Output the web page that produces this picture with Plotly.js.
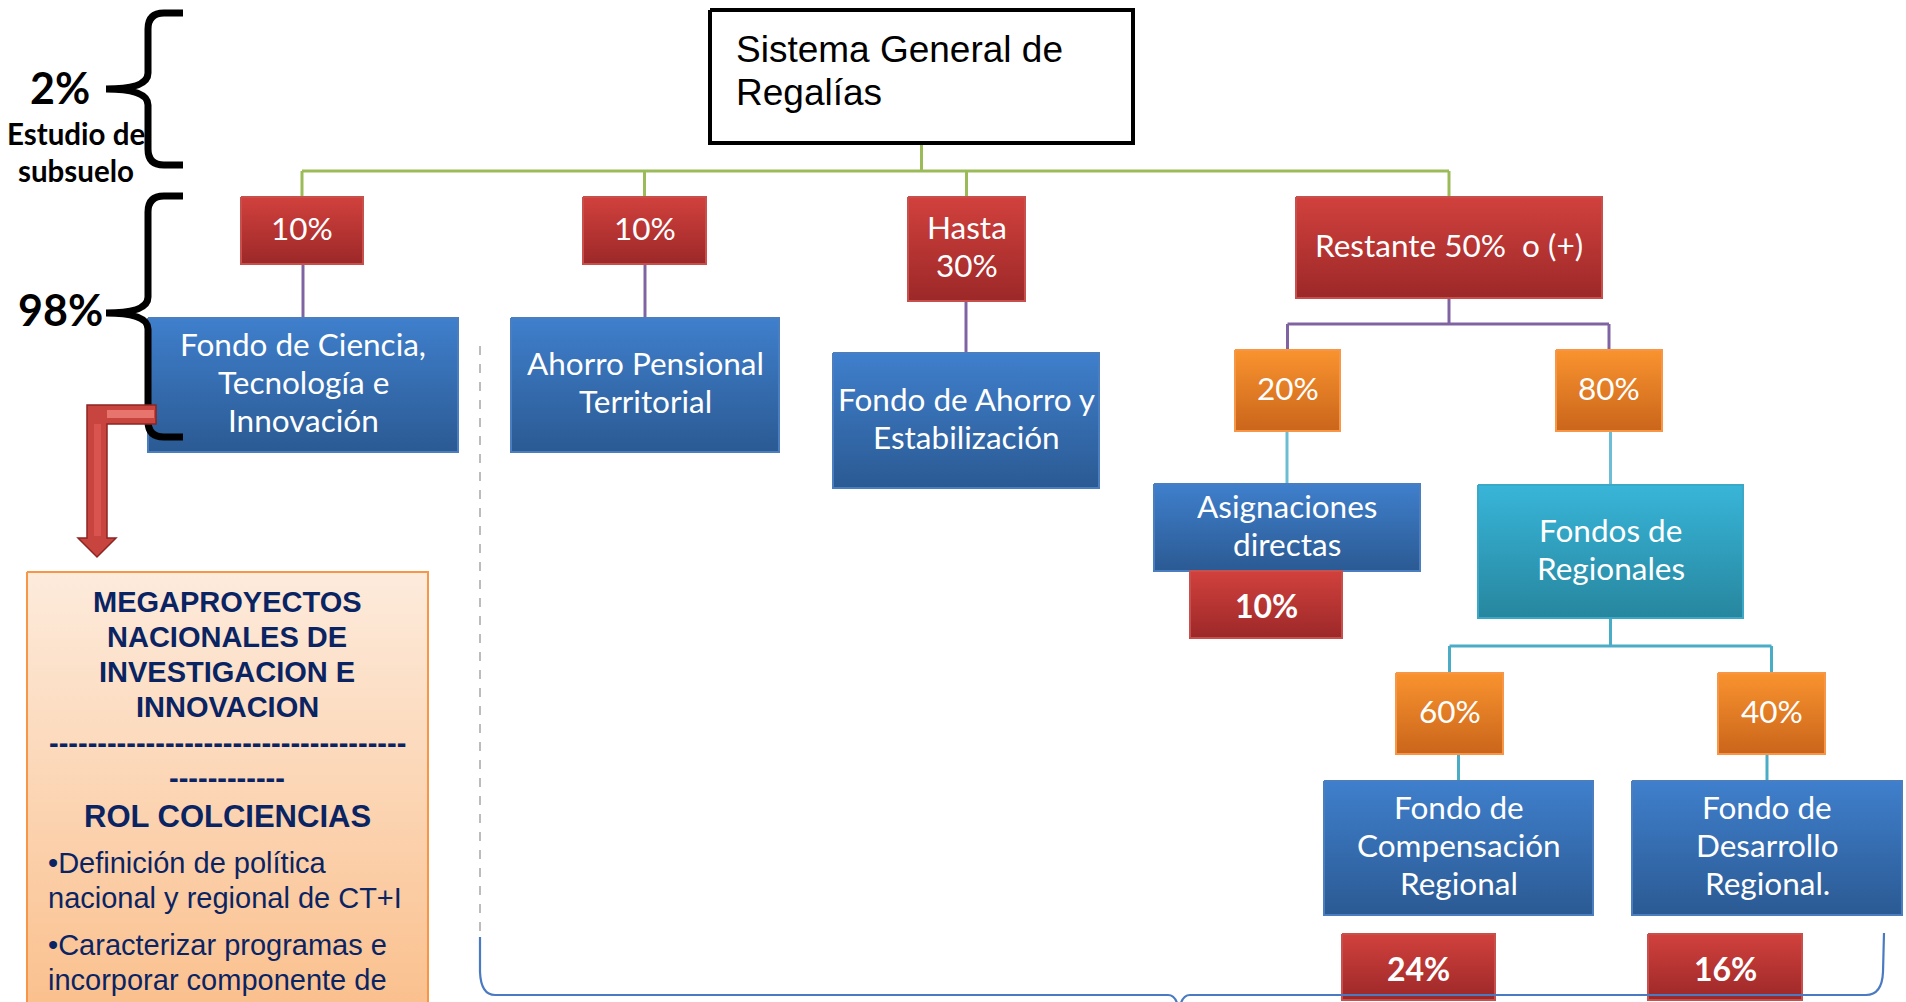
<!DOCTYPE html>
<html><head><meta charset="utf-8">
<script src="https://cdn.plot.ly/plotly-3.0.1.min.js"></script>
<style>html,body{margin:0;padding:0;background:#fff;overflow:hidden}#chart{width:1906px;height:1002px}</style>
</head><body><div id="chart"></div>
<script>
// ---------------- DATA ----------------
const nodeIds    = ['root','p1','p2','p3','p4','f1','f2','f3','p5','p6','f4','p7','f5','p8','p9','f6','f7','p10','p11'];
const nodeLabels = ['Sistema General de<br>Regalías','10%','10%','Hasta<br>30%','Restante 50%  o (+)',
  'Fondo de Ciencia,<br>Tecnología e<br>Innovación','Ahorro Pensional<br>Territorial','Fondo de Ahorro y<br>Estabilización',
  '20%','80%','Asignaciones<br>directas','10%','Fondos de<br>Regionales','60%','40%',
  'Fondo de<br>Compensación<br>Regional','Fondo de<br>Desarrollo<br>Regional.','24%','16%'];
const edgeGroups = [
  ['root',['p1','p2','p3','p4']],
  ['p1',['f1']],['p2',['f2']],['p3',['f3']],
  ['p4',['p5','p6']],
  ['p5',['f4']],['p6',['f5']],
  ['f5',['p8','p9']],
  ['p8',['f6']],['p9',['f7']]
];
const sideShares = ['2%','98%'];
const sideNote = ['Estudio de','subsuelo'];
const roleHead = ['MEGAPROYECTOS','NACIONALES DE','INVESTIGACION E','INNOVACION'];
const roleRule = ['-------------------------------------','------------'];
const roleTitle = 'ROL COLCIENCIAS';
const roleItems = ['•Definición de política','nacional y regional de CT+I','•Caracterizar programas e','incorporar componente de'];

// ---------------- GEOMETRY / STYLE ----------------
const geom = {
  root:[710,1133,10,143,'white'], p1:[241,363,197,264,'red'], p2:[583,706,197,264,'red'],
  p3:[908,1025,197,301,'red'], p4:[1296,1602,197,298,'red'],
  f1:[148,458,318,452,'blue'], f2:[511,779,318,452,'blue'], f3:[833,1099,353,488,'blue'],
  p5:[1235,1340,350,431,'orange'], p6:[1556,1662,350,431,'orange'],
  f4:[1154,1420,484,571,'blue'], p7:[1190,1342,571,638,'red'],
  f5:[1478,1743,485,618,'teal'], p8:[1396,1503,673,754,'orange'], p9:[1718,1825,673,754,'orange'],
  f6:[1324,1593,781,915,'blue'], f7:[1632,1902,781,915,'blue'],
  p10:[1342,1495,934,1000,'red'], p11:[1648,1802,934,1000,'red']
};
const boldIds = ['p7','p10','p11'];
const busY = {root:171, p4:324, f5:646};
const edgeColor = {root:'#9BBB59', p1:'#8064A2', p2:'#8064A2', p3:'#8064A2', p4:'#8064A2',
  p5:'#6DBED4', p6:'#6DBED4', f5:'#4BACC6', p8:'#4BACC6', p9:'#4BACC6'};
const styles = {
  red:{top:'#D1413D',bot:'#9C2828',line:'#C8504C'},
  blue:{top:'#3F7FCC',bot:'#2B5A93',line:'#4A7EBF'},
  orange:{top:'#F9932F',bot:'#CA651B',line:'#F79646'},
  teal:{top:'#38B5D9',bot:'#27869E',line:'#3AA8C6'},
  peach:{top:'#FDEBDC',bot:'#FABB84',line:'#F79646'},
  white:{top:'#FFFFFF',bot:'#FFFFFF',line:'#000000'}
};
const FONT = 'Lato, "Open Sans", sans-serif';

const traces = [];
const annotations = [];
const shapes = [];

const cx = id => (geom[id][0]+geom[id][1])/2;

// connectors
edgeGroups.forEach(([par, kids]) => {
  const g = geom[par];
  const xs = [], ys = [];
  if (kids.length === 1) {
    const k = geom[kids[0]];
    const x = cx(kids[0]);
    xs.push(x, x); ys.push(g[3], k[2]);
  } else {
    const by = busY[par];
    const pxc = cx(par);
    xs.push(pxc, pxc, null); ys.push(g[3], by, null);
    const kx = kids.map(cx);
    xs.push(Math.min(...kx), Math.max(...kx), null); ys.push(by, by, null);
    kids.forEach((k,i) => { xs.push(kx[i], kx[i], null); ys.push(by, geom[k][2], null); });
  }
  traces.push({type:'scatter', mode:'lines', x:xs, y:ys, line:{color:edgeColor[par], width:3},
    hoverinfo:'skip', showlegend:false});
});

function boxTrace(x0,x1,y0,y1,st,lw){
  const s = styles[st];
  return {type:'scatter', mode:'lines', x:[x0,x1,x1,x0,x0], y:[y0,y0,y1,y1,y0], fill:'toself',
    fillgradient:{type:'vertical', start:y0, stop:y1, colorscale:[[0,s.top],[1,s.bot]]},
    line:{color:s.line, width:lw||2}, hoverinfo:'skip', showlegend:false};
}
function addLines(lines, x, yc, gap, font, xanchor){
  const n = lines.length;
  lines.forEach((t,i) => {
    annotations.push({x:x, y:yc + (i-(n-1)/2)*gap, xref:'x', yref:'y', text:t, showarrow:false,
      xanchor:xanchor||'center', yanchor:'middle', font:font});
  });
}

// boxes
nodeIds.forEach((id, i) => {
  const g = geom[id];
  traces.push(boxTrace(g[0],g[1],g[2],g[3],g[4], id==='root'?4:2));
  const lines = nodeLabels[i].split('<br>');
  const ymid = (g[2]+g[3])/2;
  if (id === 'root') {
    addLines(lines, 734, 71, 43, {family:'"Liberation Sans", Arial, sans-serif', size:37, color:'#000'}, 'left');
  } else if (boldIds.includes(id)) {
    addLines(lines, cx(id), ymid+1, 38, {family:FONT, size:32, color:'#fff', weight:'bold'});
  } else {
    addLines(lines, cx(id), ymid-3, 38, {family:FONT, size:31.5, color:'#fff'});
  }
});

// role box
traces.push(boxTrace(27,428,572,1060,'peach',2));
const navy = '#0A2463';
const arialB = {family:'"Liberation Sans", Arial, sans-serif', size:29, color:navy, weight:'bold'};
const arialR = {family:'"Liberation Sans", Arial, sans-serif', size:29, color:navy};
addLines(roleHead, 227, 654.5, 35, arialB);
addLines(roleRule, 227, 760.5, 35, arialB);
addLines([roleTitle], 227, 816, 35, Object.assign({}, arialB, {size:31}));
addLines(roleItems.slice(0,2), 46, 880.5, 35, arialR, 'left');
addLines(roleItems.slice(2), 46, 962.5, 35, arialR, 'left');

// side labels
const sideFont = {family:FONT, size:43, color:'#000', weight:'bold'};
annotations.push({x:60, y:87, xref:'x', yref:'y', text:sideShares[0], showarrow:false, font:sideFont});
annotations.push({x:60, y:309, xref:'x', yref:'y', text:sideShares[1], showarrow:false, font:sideFont});
addLines(sideNote, 76, 151.5, 37, {family:FONT, size:29.5, color:'#000', weight:'bold'});

// braces
function brace(xs, xt, xa, y0, y1, ym, r){
  return `M ${xa},${y0} L ${xs+r},${y0} Q ${xs},${y0} ${xs},${y0+r} L ${xs},${ym-r} Q ${xs},${ym} ${xt},${ym} ` +
         `Q ${xs},${ym} ${xs},${ym+r} L ${xs},${y1-r} Q ${xs},${y1} ${xs+r},${y1} L ${xa},${y1}`;
}
shapes.push({type:'path', xref:'x', yref:'y', path:brace(148,106,183,13,165,89,16),
  line:{color:'#000', width:7}, layer:'above'});
shapes.push({type:'path', xref:'x', yref:'y', path:brace(148,106,183,196,437,313,16),
  line:{color:'#000', width:7}, layer:'above'});

// dashed guide + bottom blue brace
shapes.push({type:'line', xref:'x', yref:'y', x0:480, x1:480, y0:346, y1:937,
  line:{color:'#A6A6A6', width:1.5, dash:'dash'}, layer:'below'});
shapes.push({type:'path', xref:'x', yref:'y',
  path:'M 480,937 L 480,972 Q 481,995 495,995 L 1168,995 Q 1177,995 1179,1012 Q 1181,995 1190,995 L 1866,995 Q 1882,995 1883,972 L 1884,933',
  line:{color:'#4A7AC2', width:2.2}, layer:'above'});

// red elbow arrow
shapes.push({type:'path', xref:'x', yref:'y',
  path:'M 87,405 L 156,405 L 156,424 L 107,424 L 107,538 L 116,538 L 97,557 L 78,538 L 87,538 Z',
  fillcolor:'#C8443F', line:{color:'#8C2522', width:1.5}, layer:'above'});
shapes.push({type:'path', xref:'x', yref:'y',
  path:'M 107,410 L 154,410 L 154,418 L 107,418 Z', fillcolor:'#E8746E', line:{width:0}, layer:'above'});
shapes.push({type:'path', xref:'x', yref:'y',
  path:'M 94,424 L 101,424 L 101,536 L 94,536 Z', fillcolor:'#D9544F', line:{width:0}, layer:'above'});

const layout = {
  width:1906, height:1002, margin:{l:0,r:0,t:0,b:0},
  paper_bgcolor:'#fff', plot_bgcolor:'#fff', showlegend:false,
  xaxis:{range:[0,1906], visible:false, fixedrange:true},
  yaxis:{range:[1002,0], visible:false, fixedrange:true},
  annotations:annotations, shapes:shapes
};
Plotly.newPlot('chart', traces, layout, {staticPlot:true, displayModeBar:false});
</script></body></html>
